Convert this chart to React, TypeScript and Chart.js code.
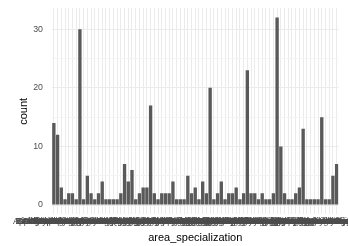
import React, { useEffect, useRef } from "react";
import { Chart, registerables } from "chart.js";

Chart.register(...registerables);

const categories = [
  "Applied Mathematics", "Analytical Chemistry", "Artificial Intelligence", "Atmospheric Sciences",
  "Biochemistry and Genetics", "Bioinformatics and Genomics", "Biomedical Engineering",
  "Cell and Developmental Biology", "Civil and Structural Engineering", "Clinical Medicine and Surgery",
  "Cognitive Science and Psychology", "Computer Networks and Security", "Computer Vision and Graphics",
  "Condensed Matter Physics", "Cryptography and Information Theory", "Data Mining and Knowledge Discovery",
  "Databases and Information Systems", "Ecology and Environmental Biology",
  "Econometrics and Quantitative Economics", "Electrical and Electronic Engineering",
  "Energy Systems and Power Engineering", "Environmental Science and Management",
  "Epidemiology and Public Health", "Evolutionary Biology and Systematics", "Finance and Accounting",
  "Fluid Dynamics and Aerodynamics", "Genetics and Molecular Medicine", "Geology and Earth Sciences",
  "Geophysics and Seismology", "Graph Theory and Combinatorics", "Health Informatics and Telemedicine",
  "Human-Computer Interaction", "Image Processing and Pattern Recognition",
  "Immunology and Infectious Diseases", "Information Retrieval and Web Search",
  "Inorganic and Coordination Chemistry", "Linguistics and Language Studies",
  "Machine Learning and Data Science", "Marine Biology and Fisheries", "Materials Science and Engineering",
  "Mechanical and Industrial Engineering", "Microbiology and Biotechnology",
  "Molecular Biology and Biochemistry", "Nanotechnology and Nanomaterials", "Natural Language Processing",
  "Neuroscience and Neurology", "Nuclear and Radiation Physics", "Number Theory and Algebra",
  "Oceanography and Climate Science", "Operations Research and Optimization", "Optics and Photonics",
  "Organic and Medicinal Chemistry", "Particle and High Energy Physics",
  "Pharmacology and Pharmaceutical Sciences", "Physical and Theoretical Chemistry",
  "Plant Science and Agronomy", "Polymer Science and Engineering", "Probability and Stochastic Processes",
  "Psychology and Behavioral Sciences", "Public Health and Health Policy",
  "Quantum Computing and Information", "Renewable Energy and Sustainability", "Robotics and Automation",
  "Signal Processing and Communications", "Social Networks and Computational Social Science",
  "Software Engineering and Programming Languages", "Soil Science and Land Management",
  "Statistics and Data Analysis", "Structural Biology and Biophysics",
  "Sustainability and Environmental Policy", "Systems Biology and Bioengineering",
  "Telecommunications Engineering", "Theoretical and Mathematical Physics", "Topology and Geometry",
  "Toxicology and Food Safety", "Virology and Vaccine Research", "Zoology and Animal Science",
];

const counts = [
  14, 12, 3, 1, 2, 2, 1, 30, 1, 5,
  2, 1, 2, 4, 1, 1, 1, 1, 2, 7,
  4, 6, 1, 2, 3, 3, 17, 2, 1, 2,
  2, 2, 4, 1, 1, 1, 5, 2, 3, 1,
  4, 2, 20, 1, 2, 4, 1, 2, 2, 3,
  1, 2, 23, 2, 2, 1, 2, 1, 1, 2,
  32, 10, 2, 1, 1, 2, 3, 13, 1, 1,
  1, 1, 15, 1, 1, 5, 7,
];

const yGridTicks = [0, 5, 10, 15, 20, 25, 30];
const yLabelStep = 10;

const FONT = "'Liberation Sans', Arial, Helvetica, sans-serif";

export default function App() {
  const ref = useRef<HTMLCanvasElement>(null);

  useEffect(() => {
    const chart = new Chart(ref.current as HTMLCanvasElement, {
      type: "bar",
      data: {
        labels: categories,
        datasets: [
          {
            data: counts,
            backgroundColor: "#595959",
            borderWidth: 0,
            barPercentage: 0.9,
            categoryPercentage: 1,
          },
        ],
      },
      options: {
        animation: false,
        responsive: false,
        devicePixelRatio: 1,
        layout: { padding: { top: 8.2, right: 9.5, left: 0, bottom: 0 } },
        plugins: { legend: { display: false }, tooltip: { enabled: false } },
        scales: {
          x: {
            offset: true,
            grid: { offset: false, color: "#EBEBEB", lineWidth: 1, drawTicks: false },
            border: { display: false },
            ticks: {
              autoSkip: false,
              maxRotation: 0,
              minRotation: 0,
              padding: 2,
              color: "#4D4D4D",
              font: { family: FONT, size: 8.8 },
            },
            title: {
              display: true,
              text: "area_specialization",
              color: "#000000",
              font: { family: FONT, size: 11 },
              padding: { top: 0, bottom: 1.5 },
            },
            afterFit: (s: any) => {
              s.height = 31.6;
              s.paddingLeft = 0;
              s.paddingRight = 0;
            },
          },
          y: {
            min: -1.6,
            max: 33.6,
            afterBuildTicks: (s: any) => {
              s.ticks = yGridTicks.map((v) => ({ value: v }));
            },
            grid: {
              drawTicks: false,
              color: (ctx: any) =>
                ctx.tick && ctx.tick.value % yLabelStep === 0 ? "#EBEBEB" : "#F3F3F3",
              lineWidth: 1,
            },
            border: { display: false },
            ticks: {
              padding: 9,
              color: "#4D4D4D",
              font: { family: FONT, size: 8.8 },
              callback: (v: any) => (Number(v) % yLabelStep === 0 ? String(v) : ""),
            },
            title: {
              display: true,
              text: "count",
              color: "#000000",
              font: { family: FONT, size: 11 },
              padding: { top: 17, bottom: 0 },
            },
            afterFit: (s: any) => {
              s.width = 52;
              s.paddingTop = 0;
              s.paddingBottom = 0;
            },
          },
        },
      },
    });
    return () => chart.destroy();
  }, []);

  return (
    <div style={{ position: "absolute", left: 0, top: 0, width: 348, height: 246, background: "#fff" }}>
      <canvas ref={ref} width={348} height={246} style={{ width: 348, height: 246, display: "block" }} />
    </div>
  );
}
